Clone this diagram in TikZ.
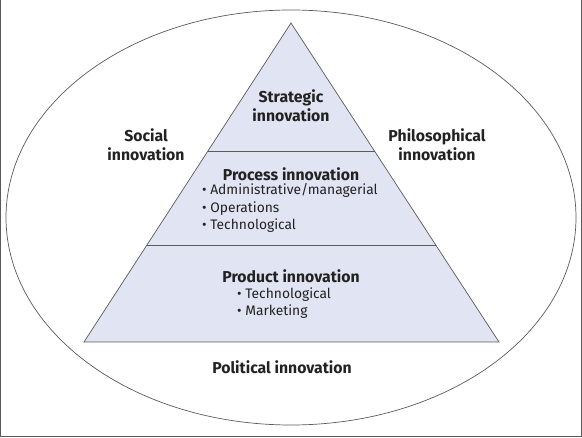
\documentclass[tikz,border=0pt]{standalone}
\usepackage{fontspec}
\setmainfont{Fira Sans}
\usepackage{xcolor}
\usepackage{tikz}
\usetikzlibrary{positioning}

\definecolor{pyrfill}{HTML}{E1E4F2}
\definecolor{edgegray}{HTML}{5A5A5A}
\definecolor{txtgray}{HTML}{222222}
\tikzset{
  level/.style={fill=pyrfill, draw=edgegray, line width=0.7pt},
  heading/.style={font=\bfseries\fontsize{15.8}{19}\selectfont, align=center, text=txtgray, inner sep=0pt},
  items/.style={font=\fontsize{13.8}{17.5}\selectfont, align=left, text=txtgray, inner sep=0pt}
}

\begin{document}
\begin{tikzpicture}[x=1pt,y=-1pt]

  \useasboundingbox (0,0) rectangle (582,438);

  % frame, open at the top
  \draw[edgegray, line width=1.3pt] (0.7,0) -- (0.7,436.4) -- (581.3,436.4) -- (581.3,0);

  \coordinate (top) at (291,23);
  \coordinate (bl) at (84,342);
  \coordinate (br) at (499,342);
  \coordinate (ul) at (208,151);
  \coordinate (ur) at (375,151);
  \coordinate (ml) at (147,245);
  \coordinate (mr) at (436,245);

  \draw[edgegray, line width=0.7pt] (291,217.5) ellipse (285 and 207.5);

  \draw[level] (top) -- (br) -- (bl) -- cycle;
  \draw[edgegray, line width=0.7pt] (ul) -- (ur);
  \draw[edgegray, line width=0.7pt] (ml) -- (mr);

  \node[heading] (strat) at (291,106) {Strategic\\innovation};
  \node[heading] (social) at (146,145) {Social\\innovation};
  \node[heading] (philo) at (437,145) {Philosophical\\innovation};

  \node[heading] (proc) at (291,174) {Process innovation};
  \node[items, anchor=west] (procitems) at (202,208)
    {\textbullet\ Administrative/managerial\\\textbullet\ Operations\\\textbullet\ Technological};

  \node[heading] (prod) at (291,276) {Product innovation};
  \node[items, anchor=west] (proditems) at (237,303)
    {\textbullet\ Technological\\\textbullet\ Marketing};

  \node[heading] (poli) at (282,367) {Political innovation};

\end{tikzpicture}
\end{document}
